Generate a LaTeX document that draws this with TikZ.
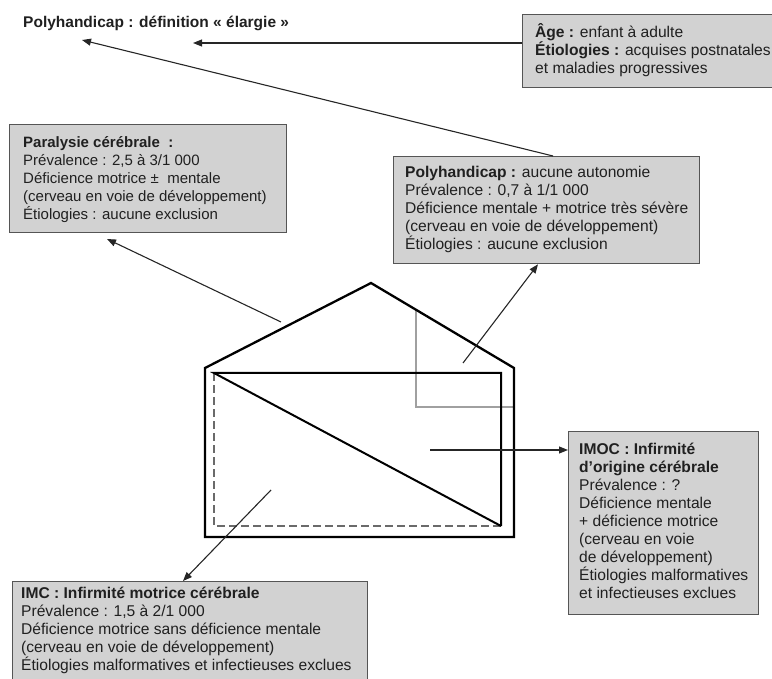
\documentclass[tikz,border=0pt]{standalone}
\usepackage{fontspec}
\setmainfont{Liberation Sans}
\usetikzlibrary{arrows.meta}
\definecolor{boxfill}{HTML}{D2D2D2}
\definecolor{boxline}{HTML}{555555}
\definecolor{txtc}{HTML}{202020}
\definecolor{dashc}{HTML}{6A6A6A}
\definecolor{lgray}{HTML}{A0A0A0}
\newcommand\tstrut{\rule{0pt}{14pt}}
\tikzset{
  box/.style={draw=boxline, fill=boxfill, line width=1.3pt, anchor=north west, inner sep=0pt, rectangle},
  lbl/.style={anchor=north west, inner sep=0pt, align=left, text=txtc, font=\fontsize{15.6}{18}\selectfont},
  arr/.style={draw=black!85, line width=1.1pt, -{Triangle[length=9pt,width=7pt]}},
  house/.style={draw=black, line width=2.3pt, line join=miter},
  inner/.style={draw=black, line width=2pt},
  dashline/.style={draw=dashc, line width=1.5pt, dash pattern=on 8pt off 4pt},
  grayl/.style={draw=lgray, line width=1.6pt}
}
\begin{document}
\begin{tikzpicture}[x=1pt,y=-1pt]
\useasboundingbox (0,0) rectangle (772,679);
% title
\node[lbl, anchor=base west, font=\fontsize{15.5}{18}\selectfont\bfseries] (title) at (23,28) {Polyhandicap : définition « élargie »};
% boxes
\node[box, minimum width=270pt, minimum height=73pt] (age) at (522,14) {};
\node[lbl] (ageT) at (535,23) {\tstrut\textbf{Âge :} enfant à adulte\\\textbf{Étiologies :} acquises postnatales\\et maladies progressives};
\node[box, minimum width=277pt, minimum height=108pt] (para) at (9,124) {};
\node[lbl, font=\fontsize{15}{18}\selectfont] (paraT) at (23,133) {\tstrut\textbf{Paralysie cérébrale \ :}\\Prévalence : 2,5 à 3/1 000\\Déficience motrice ± \ mentale\\(cerveau en voie de développement)\\Étiologies : aucune exclusion};
\node[box, minimum width=306pt, minimum height=107pt] (poly) at (393,156) {};
\node[lbl] (polyT) at (405,163) {\tstrut\textbf{Polyhandicap :} aucune autonomie\\Prévalence : 0,7 à 1/1 000\\Déficience mentale + motrice très sévère\\(cerveau en voie de développement)\\Étiologies : aucune exclusion};
\node[box, minimum width=190pt, minimum height=183pt] (imoc) at (568,431) {};
\node[lbl] (imocT) at (579,440) {\tstrut\textbf{IMOC : Infirmité}\\\textbf{d'origine cérébrale}\\Prévalence : ?\\Déficience mentale\\+ déficience motrice\\(cerveau en voie\\de développement)\\Étiologies malformatives\\et infectieuses exclues};
\node[box, minimum width=355pt, minimum height=112pt] (imc) at (12,581) {};
\node[lbl] (imcT) at (21,584) {\tstrut\textbf{IMC : Infirmité motrice cérébrale}\\Prévalence : 1,5 à 2/1 000\\Déficience motrice sans déficience mentale\\(cerveau en voie de développement)\\Étiologies malformatives et infectieuses exclues};
% house
\coordinate (hl) at (205,368);
\coordinate (ha) at (371,283);
\coordinate (hr) at (514,368);
\coordinate (hbr) at (514,537);
\coordinate (hbl) at (205,537);
\coordinate (itl) at (214,373);
\coordinate (itr) at (501,373);
\coordinate (ibr) at (501,526);
\coordinate (ibl) at (214,526);
\draw[dashline] (itl) -- (ibl) -- (ibr);
\draw[grayl] (416,310) -- (416,407) -- (513,407);
\draw[inner, line join=miter] (ibr) -- (itl) -- (itr) -- (ibr);
\draw[house] (hl) -- (ha) -- (hr) -- (hbr) -- (hbl) -- cycle;
% arrows
\coordinate (t1) at (193,43);
\coordinate (t2) at (82,40);
\coordinate (r1) at (281,322);
\coordinate (t3) at (107,239);
\coordinate (s4) at (463,363);
\coordinate (s5) at (430,450);
\coordinate (s6) at (271,490);
\draw[arr] (age.west |- t1) -- (t1);
\draw[arr] (poly.north west -| 553,0) -- (t2);
\draw[arr] (r1) -- (t3);
\draw[arr] (s4) -- (poly.south west -| 538,0);
\draw[arr] (s5) -- (imoc.west |- s5);
\draw[arr] (s6) -- (imc.north west -| 183,0);
\end{tikzpicture}
\end{document}
